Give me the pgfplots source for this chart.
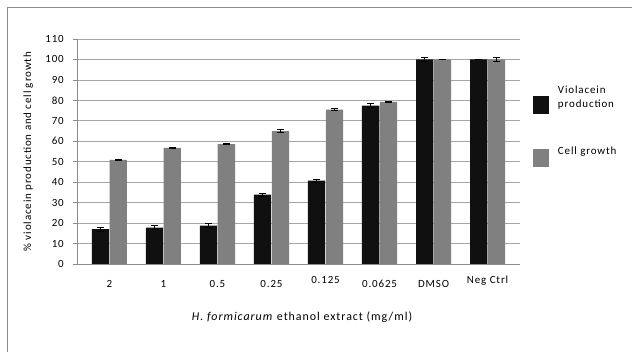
\documentclass[border=0pt]{standalone}
\usepackage{fontspec}
\setmainfont{Carlito}[LetterSpace=8]
\usepackage{pgfplots}
\usepackage{pgfplotstable}
\pgfplotsset{compat=1.18}
\definecolor{barblack}{HTML}{101010}
\definecolor{bargrey}{HTML}{808080}
\definecolor{gridc}{HTML}{A6A6A6}
\definecolor{axisc}{HTML}{8C8C8C}

\pgfplotstableread{
x y e
0 17.0 1.0
1 17.8 1.0
2 18.7 1.0
3 33.9 0.8
4 40.8 0.8
5 77.4 1.0
6 100.0 0.8
7 100.0 0.0
}\violacein
\pgfplotstableread{
x y e
0 50.9 0.3
1 56.8 0.2
2 58.6 0.3
3 65.0 0.8
4 75.5 0.5
5 79.3 0.3
6 100.0 0.2
7 100.0 1.0
}\growth

\begin{document}
\begin{tikzpicture}
\useasboundingbox (0,0) rectangle (632bp,352bp);
\draw[axisc, line width=0.8bp] (7.3bp,0) -- (7.3bp,344.7bp) -- (632bp,344.7bp);
\begin{axis}[
  at={(77bp,88bp)}, anchor=south west,
  scale only axis, width=443bp, height=225bp,
  ybar, bar width=0.32,
  xmin=-0.6, xmax=7.6, ymin=0, ymax=110,
  ytick={0,10,...,110},
  xtick={0,...,7},
  xticklabels={2,1,0.5,0.25,\raisebox{4bp}{0.125},0.0625,DMSO,\raisebox{4bp}{Neg Ctrl}},
  axis x line*=bottom, axis y line*=left,
  axis line style={-, axisc, line width=0.8bp},
  ymajorgrids, grid style={gridc, line width=0.8bp},
  tick align=outside, major tick length=4bp,
  ytick style={axisc, line width=0.8bp},
  xtick style={draw=none},
  /pgf/number format/assume math mode=true,
  tick label style={font=\fontsize{11}{13}\selectfont},
  yticklabel style={anchor=east, inner sep=0pt, xshift=-9bp},
  xticklabel style={anchor=base, inner sep=0pt, yshift=-19bp},
  ylabel={\% violacein production and cell growth},
  ylabel style={at={(axis description cs:-0.1038,0.5)}, rotate=0, anchor=base, font=\fontsize{11}{13}\selectfont},
  xlabel={\textit{H. formicarum} ethanol extract (mg/ml)},
  xlabel style={at={(axis description cs:0.508,-0.2489)}, anchor=base, font=\fontsize{12}{14}\selectfont},
  legend style={at={(axis description cs:1.0293,0.79)}, anchor=north west, draw=none, fill=none,
    inner sep=0pt, outer sep=0pt, row sep=33bp,
    nodes={align=left, inner sep=0pt, font=\fontsize{11}{14}\selectfont},
    /tikz/every odd column/.append style={column sep=9bp}},
  legend cell align=left,
  legend image code/.code={\fill[#1] (0bp,-16bp) rectangle (16bp,2bp);},
]
\addplot[fill=barblack, draw=none, bar shift=-0.165,
  error bars/.cd, y dir=both, y explicit,
  error bar style={draw=black, line width=0.8bp},
  error mark options={rotate=90, mark size=3.5bp, draw=black, line width=0.8bp}]
  table[x=x, y=y, y error=e]{\violacein};
\addplot[fill=bargrey, draw=none, bar shift=0.165,
  error bars/.cd, y dir=both, y explicit,
  error bar style={draw=black, line width=0.8bp},
  error mark options={rotate=90, mark size=3.5bp, draw=black, line width=0.8bp}]
  table[x=x, y=y, y error=e]{\growth};
\legend{{Violacein\\production}, Cell growth}
\end{axis}
\end{tikzpicture}
\end{document}
